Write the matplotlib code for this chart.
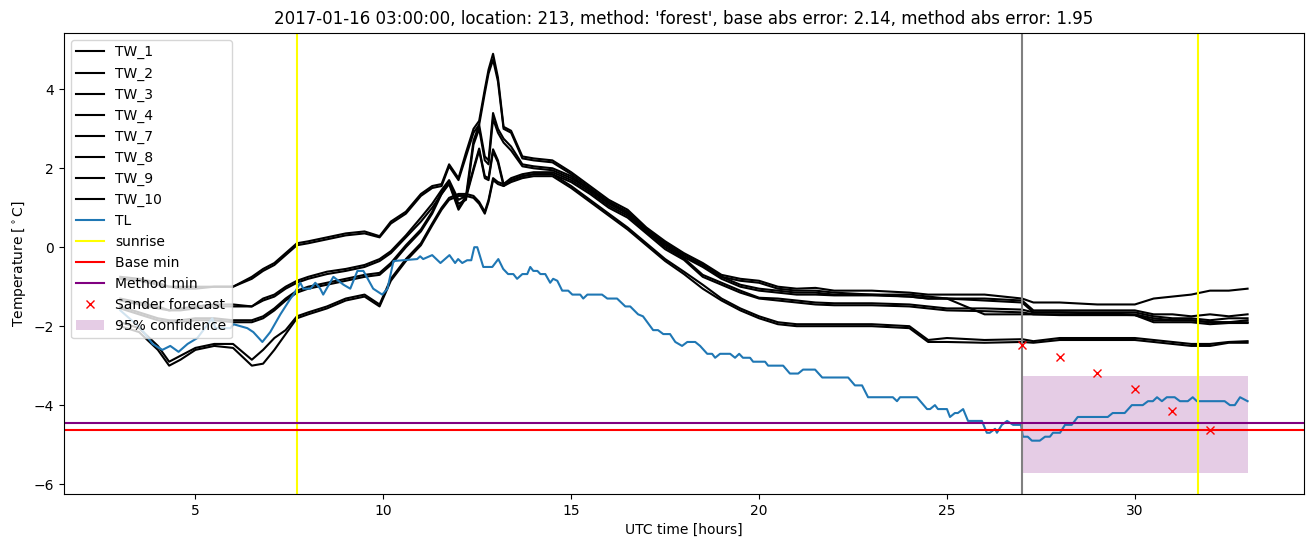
import matplotlib
matplotlib.use("Agg")
import matplotlib.pyplot as plt

# ---------------- data ----------------
tw_hours = [3.0, 3.5, 4.0, 4.3, 4.6, 5.0, 5.5, 6.0, 6.5, 6.8, 7.1, 7.4, 7.7, 8.0, 8.5, 9.0, 9.5,
            9.9, 10.2, 10.6, 11.0, 11.3, 11.55, 11.75, 12.0, 12.2, 12.4,
            12.55, 12.7, 12.8, 12.92, 13.05, 13.2, 13.4, 13.7, 14.0,
            14.5, 15.0, 15.5, 16.0, 16.5, 17.0, 17.5, 18.0, 18.5, 19.0, 19.5, 20.0, 20.5, 21.0, 21.5,
            22.0, 23.0, 24.0, 24.5, 25.0, 26.0, 27.0, 27.3,
            28.0, 29.0, 30.0, 30.5, 31.0, 31.5, 32.0, 32.5, 33.0]

tw_1 = [-0.75, -0.8, -0.9, -1.0, -1.0, -1.0, -1.0, -1.0, -0.75, -0.55, -0.4, -0.15, 0.1, 0.15, 0.25, 0.35, 0.4,
        0.28, 0.65, 0.9, 1.35, 1.55, 1.6, 2.1, 1.75, 2.4, 3.0,
        3.2, 4.0, 4.5, 4.9, 4.3, 3.05, 2.95, 2.3, 2.25,
        2.2, 1.9, 1.55, 1.2, 0.95, 0.5, 0.15, -0.15, -0.4, -0.7, -0.8, -0.85, -1.0, -1.05, -1.03,
        -1.1, -1.1, -1.15, -1.2, -1.2, -1.2, -1.3, -1.4,
        -1.4, -1.45, -1.45, -1.3, -1.25, -1.2, -1.1, -1.1, -1.05]
tw_2 = [-0.8, -0.85, -0.95, -1.0, -1.05, -1.05, -1.0, -1.0, -0.8, -0.6, -0.45, -0.2, 0.05, 0.1, 0.2, 0.3, 0.35,
        0.25, 0.6, 0.85, 1.3, 1.5, 1.55, 2.05, 1.7, 2.3, 2.9,
        3.1, 3.9, 4.4, 4.75, 4.2, 3.0, 2.9, 2.25, 2.2,
        2.15, 1.85, 1.5, 1.15, 0.9, 0.45, 0.1, -0.2, -0.45, -0.75, -0.85, -0.9, -1.05, -1.1, -1.1,
        -1.15, -1.2, -1.2, -1.25, -1.3, -1.3, -1.35, -1.6,
        -1.6, -1.6, -1.6, -1.7, -1.7, -1.75, -1.7, -1.75, -1.7]
tw_3 = [-1.3, -1.4, -1.5, -1.6, -1.55, -1.5, -1.45, -1.45, -1.5, -1.3, -1.2, -1.0, -0.85, -0.75, -0.62, -0.55, -0.45,
        -0.3, -0.1, 0.3, 0.75, 1.1, 1.45, 1.7, 1.2, 1.3, 2.7,
        3.1, 2.3, 2.2, 3.4, 3.0, 2.75, 2.55, 2.1, 2.05,
        2.0, 1.8, 1.45, 1.15, 0.85, 0.45, 0.1, -0.2, -0.45, -0.75, -0.95, -1.05, -1.1, -1.15, -1.15,
        -1.2, -1.2, -1.25, -1.3, -1.3, -1.35, -1.4, -1.65,
        -1.65, -1.65, -1.65, -1.75, -1.8, -1.8, -1.85, -1.8, -1.8]
tw_4 = [-1.35, -1.45, -1.55, -1.6, -1.6, -1.55, -1.5, -1.5, -1.5, -1.35, -1.25, -1.05, -0.9, -0.8, -0.68, -0.6, -0.5,
        -0.35, -0.15, 0.25, 0.65, 1.0, 1.35, 1.65, 1.1, 1.2, 2.6,
        3.0, 2.2, 2.1, 3.25, 2.9, 2.65, 2.45, 2.05, 2.0,
        1.95, 1.75, 1.45, 1.1, 0.85, 0.4, 0.05, -0.25, -0.5, -0.8, -1.0, -1.1, -1.15, -1.2, -1.2,
        -1.22, -1.22, -1.25, -1.3, -1.3, -1.7, -1.7, -1.7,
        -1.72, -1.72, -1.72, -1.85, -1.85, -1.85, -1.9, -1.9, -1.85]
tw_7 = [-1.5, -1.65, -1.8, -1.85, -1.85, -1.8, -1.8, -1.85, -1.85, -1.75, -1.55, -1.3, -1.1, -1.0, -0.9, -0.8, -0.7,
        -0.65, -0.4, 0.05, 0.45, 0.9, 1.4, 1.65, 1.0, 1.3, 2.0,
        2.5, 1.8, 1.75, 2.48, 2.2, 1.6, 1.75, 1.85, 1.9,
        1.9, 1.7, 1.4, 1.05, 0.8, 0.4, 0.0, -0.28, -0.7, -0.9, -1.1, -1.28, -1.3, -1.35, -1.4,
        -1.42, -1.42, -1.45, -1.5, -1.55, -1.55, -1.58, -1.65,
        -1.65, -1.68, -1.7, -1.8, -1.85, -1.85, -1.9, -1.9, -1.9]
tw_8 = [-1.55, -1.7, -1.85, -1.9, -1.9, -1.85, -1.85, -1.9, -1.9, -1.8, -1.6, -1.35, -1.15, -1.05, -0.95, -0.85, -0.75,
        -0.7, -0.45, 0.0, 0.4, 0.85, 1.35, 1.6, 0.95, 1.25, 1.95,
        2.45, 1.75, 1.7, 2.42, 2.15, 1.55, 1.7, 1.8, 1.85,
        1.85, 1.65, 1.35, 1.0, 0.75, 0.35, -0.05, -0.32, -0.75, -0.95, -1.15, -1.3, -1.35, -1.4, -1.45,
        -1.47, -1.47, -1.5, -1.55, -1.6, -1.62, -1.65, -1.7,
        -1.7, -1.7, -1.72, -1.9, -1.9, -1.9, -1.95, -1.92, -1.92]
tw_9 = [-1.9, -2.05, -2.5, -2.9, -2.75, -2.55, -2.45, -2.45, -2.85, -2.6, -2.3, -2.1, -1.75, -1.65, -1.5, -1.3, -1.2,
        -1.45, -0.8, -0.3, 0.1, 0.6, 1.0, 1.25, 1.35, 1.35, 1.3,
        1.15, 0.9, 1.2, 1.75, 1.65, 1.6, 1.7, 1.8, 1.85,
        1.85, 1.55, 1.2, 0.85, 0.5, 0.1, -0.3, -0.62, -0.95, -1.3, -1.55, -1.75, -1.9, -1.95, -1.95,
        -1.95, -1.95, -2.0, -2.35, -2.3, -2.35, -2.33, -2.38,
        -2.3, -2.3, -2.3, -2.35, -2.4, -2.45, -2.45, -2.4, -2.38]
tw_10 = [-2.0, -2.15, -2.6, -3.0, -2.85, -2.6, -2.5, -2.55, -3.0, -2.95, -2.6, -2.2, -1.8, -1.7, -1.55, -1.35, -1.25,
         -1.5, -0.85, -0.35, 0.05, 0.55, 0.95, 1.2, 1.3, 1.3, 1.25,
         1.1, 0.85, 1.15, 1.7, 1.6, 1.55, 1.65, 1.75, 1.8,
         1.8, 1.5, 1.15, 0.8, 0.45, 0.05, -0.35, -0.68, -1.05, -1.35, -1.6, -1.8, -1.95, -2.0, -2.0,
         -2.0, -2.0, -2.05, -2.4, -2.4, -2.42, -2.4, -2.42,
         -2.35, -2.35, -2.35, -2.4, -2.45, -2.5, -2.5, -2.42, -2.42]

tw_labels = ["TW_1", "TW_2", "TW_3", "TW_4", "TW_7", "TW_8", "TW_9", "TW_10"]
tw_series = [tw_1, tw_2, tw_3, tw_4, tw_7, tw_8, tw_9, tw_10]

tl_hours = [3.0, 3.54, 3.86, 4.12, 4.33, 4.55, 4.79, 5.05, 5.45, 5.53, 5.93, 6.01, 6.38, 6.54, 6.78, 6.99,
            7.26, 7.53, 7.61, 7.79, 7.87, 8.06, 8.19, 8.32, 8.40, 8.67, 8.94, 9.12, 9.31, 9.47, 9.73, 9.97,
            10.11, 10.27, 10.9, 10.98, 11.06, 11.30, 11.52, 11.76, 11.91, 11.99, 12.10, 12.23, 12.34, 12.42,
            12.50, 12.66, 12.90, 13.06, 13.19, 13.32, 13.46, 13.56, 13.70, 13.83, 13.91, 13.99, 14.10, 14.18,
            14.31, 14.44, 14.52, 14.63, 14.76, 14.92, 15.03, 15.24, 15.32, 15.43, 15.82, 15.96, 16.22, 16.44,
            16.57, 16.78, 16.91, 17.18, 17.31, 17.45, 17.63, 17.77, 17.95, 18.09, 18.30, 18.43, 18.62, 18.75,
            18.83, 18.96, 19.23, 19.36, 19.47, 19.57, 19.76, 19.84, 20.16, 20.24, 20.64, 20.82, 21.04, 21.17,
            21.49, 21.68, 22.37, 22.55, 22.74, 22.90, 23.56, 23.67, 23.75, 24.20, 24.47, 24.55, 24.68, 24.76,
            25.00, 25.08, 25.21, 25.29, 25.43, 25.56, 25.93, 26.06, 26.14, 26.28, 26.33, 26.46, 26.60, 26.76,
            26.89, 26.97, 27.02, 27.15, 27.26, 27.47, 27.61, 27.74, 27.82, 28.01, 28.14, 28.32, 28.48, 29.28,
            29.41, 29.73, 29.92, 30.21, 30.35, 30.48, 30.59, 30.72, 30.85, 31.06, 31.20, 31.41, 31.54, 31.65,
            32.39, 32.53, 32.66, 32.80, 33.0]
tl_temp = [-1.6, -2.05, -2.45, -2.6, -2.5, -2.65, -2.45, -2.3, -1.8, -2.05, -2.05, -1.95, -2.05, -2.15, -2.4, -2.15,
           -1.7, -1.3, -1.2, -0.9, -1.05, -1.05, -0.9, -1.05, -1.2, -0.75, -0.95, -1.05, -0.6, -0.6, -1.05, -1.2,
           -1.05, -0.35, -0.3, -0.23, -0.3, -0.2, -0.4, -0.2, -0.4, -0.3, -0.4, -0.33, -0.33, 0.0,
           0.0, -0.5, -0.5, -0.3, -0.55, -0.68, -0.68, -0.8, -0.68, -0.68, -0.5, -0.6, -0.6, -0.68,
           -0.68, -0.9, -0.8, -0.85, -1.1, -1.1, -1.2, -1.2, -1.3, -1.2, -1.2, -1.3, -1.3, -1.5,
           -1.5, -1.7, -1.75, -2.1, -2.1, -2.2, -2.2, -2.4, -2.5, -2.4, -2.4, -2.5, -2.7, -2.7,
           -2.8, -2.7, -2.7, -2.8, -2.7, -2.8, -2.8, -2.9, -2.9, -3.0, -3.0, -3.2, -3.2, -3.1,
           -3.1, -3.3, -3.3, -3.5, -3.5, -3.8, -3.8, -3.9, -3.8, -3.8, -4.1, -4.1, -4.0, -4.1,
           -4.1, -4.3, -4.2, -4.2, -4.1, -4.4, -4.4, -4.7, -4.7, -4.6, -4.7, -4.5, -4.4, -4.5,
           -4.5, -4.5, -4.8, -4.8, -4.9, -4.9, -4.8, -4.8, -4.7, -4.7, -4.5, -4.5, -4.3, -4.3,
           -4.2, -4.2, -4.0, -4.0, -3.9, -3.9, -3.8, -3.9, -3.8, -3.8, -3.9, -3.9, -3.8, -3.9,
           -3.9, -4.0, -4.0, -3.8, -3.9]

sunrise_hours = [7.69, 31.68]
forecast_start = 27.0
base_min = -4.63
method_min = -4.45
sander_hours = [27, 28, 29, 30, 31, 32]
sander_temp = [-2.48, -2.78, -3.18, -3.58, -4.15, -4.63]
conf_hours = [27.0, 33.0]
conf_low = [-5.72, -5.72]
conf_high = [-3.27, -3.27]

title = ("2017-01-16 03:00:00, location: 213, method: 'forest', "
         "base abs error: 2.14, method abs error: 1.95")

# ---------------- plot ----------------
fig = plt.figure(figsize=(13.13, 5.47), dpi=100)
ax = fig.add_axes([0.0487, 0.0969, 0.9444, 0.8431])

for lab, ser in zip(tw_labels, tw_series):
    ax.plot(tw_hours, ser, color="black", label=lab)
ax.plot(tl_hours, tl_temp, color="tab:blue", label="TL")
for i, h in enumerate(sunrise_hours):
    ax.axvline(h, color="yellow", label="sunrise" if i == 0 else None)
ax.axvline(forecast_start, color="gray")
ax.axhline(base_min, color="red", label="Base min")
ax.axhline(method_min, color="purple", label="Method min")
ax.plot(sander_hours, sander_temp, "x", color="red", linestyle="none", label="Sander forecast")
ax.fill_between(conf_hours, conf_low, conf_high, color="purple", alpha=0.2, linewidth=0,
                label="95% confidence")

ax.set_title(title)
ax.set_xlabel("UTC time [hours]")
ax.set_ylabel(r"Temperature [$^\circ$C]")
ax.legend(loc="upper left")

fig.savefig("out.png", dpi=100)
